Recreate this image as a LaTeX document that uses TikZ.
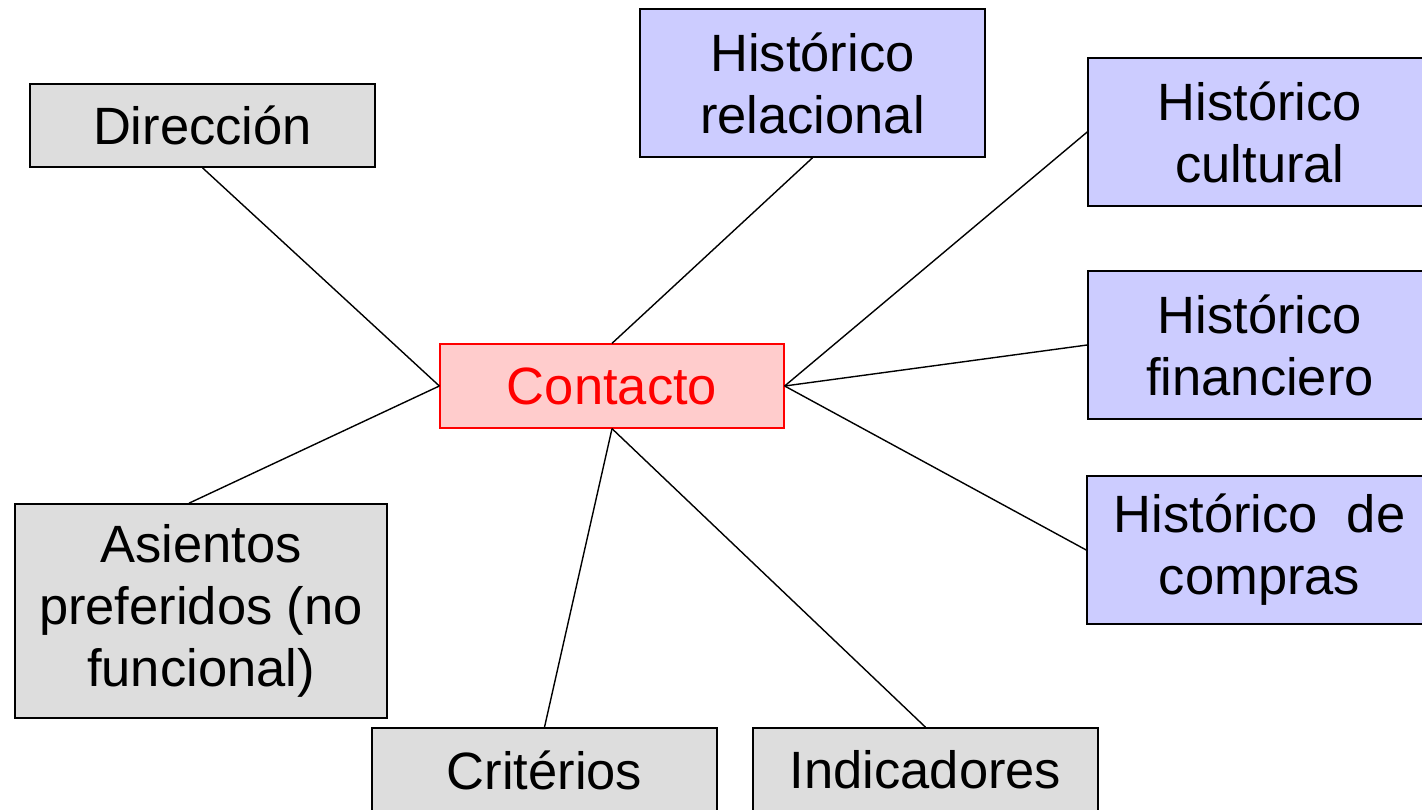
\documentclass[tikz,border=0pt]{standalone}
\usepackage{fontspec}
\setmainfont{Liberation Sans}
\definecolor{graybox}{HTML}{DDDDDD}
\definecolor{bluebox}{HTML}{CCCCFF}
\definecolor{pinkbox}{HTML}{FFCCCC}
\begin{document}
\begin{tikzpicture}[x=1pt,y=-1pt,
  boxbase/.style={draw=black, line width=1.6pt, inner sep=0pt, align=center,
    font=\fontsize{52.5}{62}\selectfont},
  gbox/.style={boxbase, fill=graybox},
  bbox/.style={boxbase, fill=bluebox},
  cbox/.style={boxbase, fill=pinkbox, draw=red, line width=1.3pt, text=red},
  link/.style={draw=black, line width=1.4pt}]
\useasboundingbox (0,0) rectangle (1422,810);
\clip (0,0) rectangle (1422,810);
\node[gbox, minimum width=345, minimum height=83] (dir) at (202.5,125.5) {Dirección};
\node[bbox, minimum width=345, minimum height=148] (rel) at (812.5,83) {Histórico\\relacional};
\node[bbox, minimum width=344, minimum height=148] (cul) at (1260,132) {Histórico\\cultural};
\node[bbox, minimum width=344, minimum height=148] (fin) at (1260,345) {Histórico\\financiero};
\node[bbox, minimum width=345, minimum height=148] (com) at (1259.5,550) {Histórico\ \ de\\compras};
\node[gbox, minimum width=372, minimum height=214] (as) at (201,611) {Asientos\\preferidos (no\\funcional)};
\node[gbox, minimum width=345, minimum height=84] (cri) at (544.5,770) {Critérios};
\node[gbox, minimum width=345, minimum height=84] (ind) at (925.5,770) {Indicadores};
\node[cbox, minimum width=344, minimum height=84] (con) at (612,386) {Contacto};
\coordinate (asn) at ([xshift=-12pt]as.north);
\draw[link] (dir.south) -- (con.west);
\draw[link] (asn) -- (con.west);
\draw[link] (rel.south) -- (con.north);
\draw[link] (cul.west) -- (con.east);
\draw[link] (fin.west) -- (con.east);
\draw[link] (com.west) -- (con.east);
\draw[link] (cri.north) -- (con.south);
\draw[link] (ind.north) -- (con.south);
\end{tikzpicture}
\end{document}
